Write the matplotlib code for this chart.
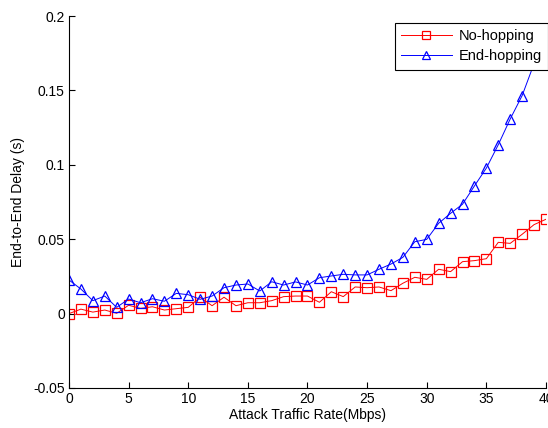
import matplotlib
matplotlib.use("Agg")
import matplotlib.pyplot as plt
import numpy as np

plt.rcParams['font.family'] = ['Liberation Sans', 'DejaVu Sans']

# attack traffic rate (Mbps)
rate = list(range(0, 41))

# end-to-end delay (s)
no_hopping = [0.000, 0.003, 0.001, 0.0024, 0.0002, 0.0056, 0.0035, 0.0046, 0.0024, 0.0033,
              0.0042, 0.011, 0.0053, 0.011, 0.0053, 0.0073, 0.0073, 0.0087, 0.0114, 0.0118,
              0.0118, 0.0076, 0.0147, 0.0114, 0.0179, 0.0174, 0.0179, 0.0154, 0.0204, 0.0244,
              0.023, 0.0298, 0.0282, 0.0349, 0.0356, 0.0369, 0.0479, 0.0472, 0.0533, 0.0598,
              0.0634]
end_hopping = [0.0226, 0.0165, 0.0087, 0.0118, 0.0042, 0.0098, 0.0073, 0.010, 0.0083, 0.0136,
               0.0127, 0.0096, 0.0118, 0.0174, 0.0192, 0.0199, 0.0152, 0.0214, 0.0192, 0.0213,
               0.0192, 0.0241, 0.0253, 0.0264, 0.026, 0.026, 0.0298, 0.0333, 0.0378, 0.0483,
               0.0499, 0.0607, 0.0674, 0.0735, 0.0858, 0.0978, 0.1135, 0.1308, 0.1465, 0.168,
               0.192]

fig = plt.figure(figsize=(5.48, 4.28), dpi=100)
ax = fig.add_axes([0.1259, 0.0935, 0.8704, 0.869])

ax.plot(rate, no_hopping, color='red', marker='s', markerfacecolor='none',
        markersize=7, linewidth=0.7, markeredgewidth=0.9, label='No-hopping')
ax.plot(rate, end_hopping, color='blue', marker='^', markerfacecolor='none',
        markersize=7, linewidth=0.7, markeredgewidth=0.9, label='End-hopping')

ax.set_xlim(0, 40)
ax.set_ylim(-0.05, 0.2)
ax.set_xticks(np.arange(0, 41, 5))
ax.set_yticks([-0.05, 0, 0.05, 0.1, 0.15, 0.2])
ax.set_yticklabels(['-0.05', '0', '0.05', '0.1', '0.15', '0.2'])

ax.spines['top'].set_visible(False)
ax.spines['right'].set_visible(False)
ax.tick_params(direction='in', length=4, labelsize=10, pad=3)

ax.set_xlabel('Attack Traffic Rate(Mbps)', fontsize=10, labelpad=1)
ax.set_ylabel('End-to-End Delay (s)', fontsize=10, labelpad=6)

leg = ax.legend(loc='upper right', bbox_to_anchor=(1.005, 0.982), borderaxespad=0,
                fancybox=False, edgecolor='black', framealpha=1, fontsize=10.5,
                handlelength=3.5, borderpad=0.42, labelspacing=0.45, handletextpad=0.5,
                markerscale=0.85)
leg.get_frame().set_linewidth(0.8)

fig.savefig('out.png', dpi=100)
